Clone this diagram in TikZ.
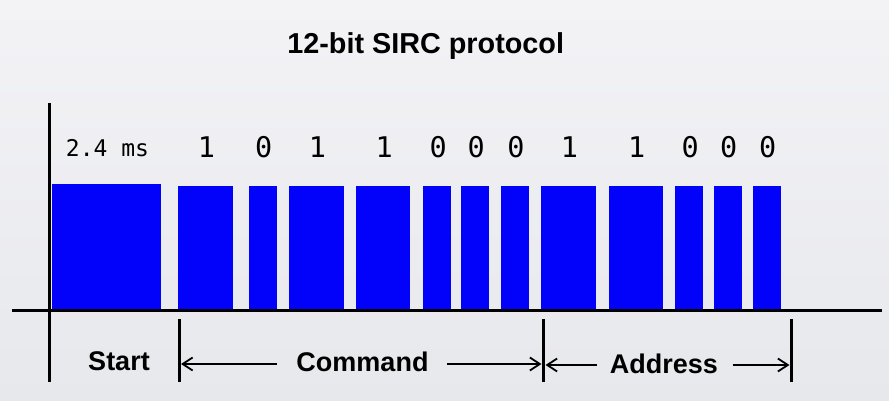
\documentclass[tikz,border=0pt]{standalone}
\usepackage{fontspec}
\setmainfont{Liberation Sans}
\newfontfamily\monofont{DejaVu Sans Mono}
\usetikzlibrary{arrows.meta}
\definecolor{bgtop}{RGB}{243,243,246}
\definecolor{bgbot}{RGB}{231,232,236}
\definecolor{pulseblue}{RGB}{2,2,250}
\begin{document}
\begin{tikzpicture}[x=1pt,y=-1pt,
  axisline/.style={line width=3pt,black},
  tickline/.style={line width=3pt,black},
  dimarrow/.style={line width=2pt,black,-{Straight Barb[length=10pt,width=13pt,line width=1.8pt]}},
  pulse/.style={fill=pulseblue},
  bitlabel/.style={font=\monofont\fontsize{28.5}{30}\selectfont,inner sep=0pt},
  seclabel/.style={font=\bfseries\fontsize{27}{30}\selectfont,inner sep=0pt,anchor=base}]
\useasboundingbox (0,0) rectangle (889,401);
\shade[top color=bgtop,bottom color=bgbot] (0,0) rectangle (889,401);
% title
\node[font=\bfseries\fontsize{28.8}{32}\selectfont,inner sep=0pt,anchor=base] (title) at (425.7,53.3) {12-bit SIRC protocol};
% start pulse
\fill[pulse] (51.7,184.3) rectangle (161,310);
\node[font=\monofont\fontsize{23}{25}\selectfont,inner sep=0pt] (ms) at (107.5,147.8) {2.4 ms};
% data pulses
\foreach \a/\b/\l [count=\i] in {178.3/232.7/1, 248.7/276.7/0, 289.3/343.7/1, 356.3/410.3/1,
  423.3/451/0, 461.3/489.3/0, 501/529/0, 541.3/595.7/1, 608.7/662.7/1, 675.3/703.3/0,
  713.7/741.7/0, 752.7/780.7/0}{
  \fill[pulse] (\a,185.5) rectangle (\b,310);
  \node[bitlabel] (bit\i) at ({(\a+\b)/2+1},147) {\l};
}
% axes
\coordinate (xl) at (12,310.5);
\coordinate (xr) at (882,310.5);
\coordinate (yt) at (49.5,103);
\coordinate (yb) at (49.5,382);
\draw[axisline] (xl) -- (xr);
\draw[axisline] (yt) -- (yb);
% ticks
\coordinate (t1a) at (179,319); \coordinate (t1b) at (179,382);
\coordinate (t2a) at (543.5,319); \coordinate (t2b) at (543.5,382);
\coordinate (t3a) at (791.5,319); \coordinate (t3b) at (791.5,382);
\draw[tickline] (t1a) -- (t1b);
\draw[tickline] (t2a) -- (t2b);
\draw[tickline] (t3a) -- (t3b);
% labels
\node[seclabel] (start) at (119,370.7) {Start};
\node[seclabel] (cmd) at (362.5,371.5) {Command};
\node[seclabel] (addr) at (663.8,373) {Address};
% arrows
\coordinate (c1) at (276.7,364);
\coordinate (c2) at (447,364);
\coordinate (a1) at (596.7,365);
\coordinate (a2) at (732.7,365);
\draw[dimarrow] (c1) -- ([xshift=2pt]c1 -| t1a);
\draw[dimarrow] (c2) -- ([xshift=-2pt]c2 -| t2a);
\draw[dimarrow] (a1) -- ([xshift=2pt]a1 -| t2a);
\draw[dimarrow] (a2) -- ([xshift=-2pt]a2 -| t3a);
\end{tikzpicture}
\end{document}
